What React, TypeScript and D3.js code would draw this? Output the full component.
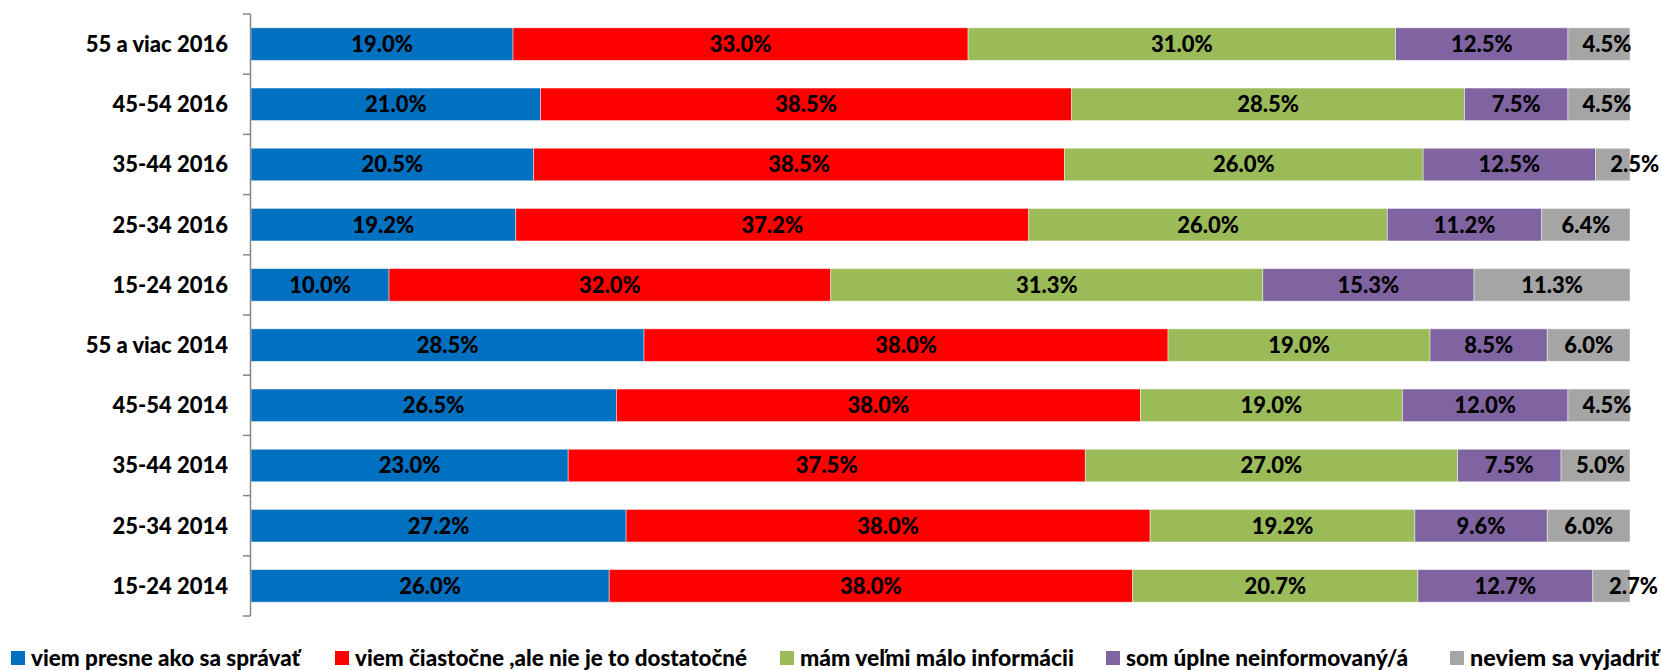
import React, { useEffect } from "react";
import * as d3 from "d3";

const categories = [
  "55 a viac 2016",
  "45-54 2016",
  "35-44 2016",
  "25-34 2016",
  "15-24 2016",
  "55 a viac 2014",
  "45-54 2014",
  "35-44 2014",
  "25-34 2014",
  "15-24 2014",
];

const seriesNames = [
  "viem presne ako sa správať",
  "viem čiastočne ,ale nie je to dostatočné",
  "mám veľmi málo informácii",
  "som úplne neinformovaný/á",
  "neviem sa vyjadriť",
];

const viemPresne = [19.0, 21.0, 20.5, 19.2, 10.0, 28.5, 26.5, 23.0, 27.2, 26.0];
const viemCiastocne = [33.0, 38.5, 38.5, 37.2, 32.0, 38.0, 38.0, 37.5, 38.0, 38.0];
const mamMalo = [31.0, 28.5, 26.0, 26.0, 31.3, 19.0, 19.0, 27.0, 19.2, 20.7];
const somNeinformovany = [12.5, 7.5, 12.5, 11.2, 15.3, 8.5, 12.0, 7.5, 9.6, 12.7];
const neviem = [4.5, 4.5, 2.5, 6.4, 11.3, 6.0, 4.5, 5.0, 6.0, 2.7];

const seriesValues = [viemPresne, viemCiastocne, mamMalo, somNeinformovany, neviem];
const colors = ["#0070C0", "#FF0000", "#9BBB59", "#8064A2", "#A5A5A5"];

// layout: horizontal nudge (px) of the last series' data labels, as placed in the original
const lastLabelNudge = [8, 8, 22, 0, 0, 0, 8, 5, 0, 22];

const W = 1661;
const H = 670;
const FONT = "Lato, 'Open Sans', sans-serif";

export default function App() {
  useEffect(() => {
    document.body.style.margin = "0";
  }, []);

  const plotLeft = 251;
  const plotRight = 1630;
  const plotTop = 14;
  const plotBottom = 616;

  const x = d3.scaleLinear().domain([0, 1]).range([plotLeft, plotRight]);
  const y = d3
    .scaleBand<string>()
    .domain(categories)
    .range([plotTop, plotBottom])
    .paddingInner(0.46)
    .paddingOuter(0.23);

  const rows = categories.map((c, i) => {
    const vals = seriesValues.map((s) => s[i]);
    const total = d3.sum(vals);
    let acc = 0;
    return vals.map((v, k) => {
      const x0 = acc / total;
      acc += v;
      const x1 = acc / total;
      return { cat: c, i, k, v, x0, x1 };
    });
  });

  const step = y.step();
  const tickYs = d3.range(categories.length + 1).map((i) => plotTop + i * step);

  const legendX = [11, 335, 780, 1106, 1450];
  const legendW = [269, 392, 274, 282, 189];

  return (
    <svg width={W} height={H} style={{ display: "block" }} fontFamily={FONT}>
      <rect width={W} height={H} fill="#fff" />
      {rows.map((segs, i) =>
        segs.map((s) => (
          <rect
            key={`${i}-${s.k}`}
            x={x(s.x0)}
            y={y(s.cat)!}
            width={x(s.x1) - x(s.x0)}
            height={y.bandwidth()}
            fill={colors[s.k]}
            stroke="#ffffff"
            strokeOpacity={0.55}
            strokeWidth={0.8}
          />
        ))
      )}
      {rows.map((segs, i) =>
        segs.map((s) => (
          <text
            key={`t-${i}-${s.k}`}
            x={(x(s.x0) + x(s.x1)) / 2 + (s.k === seriesValues.length - 1 ? lastLabelNudge[s.i] : 0)}
            y={y(s.cat)! + y.bandwidth() / 2}
            dy="0.36em"
            textAnchor="middle"
            fontSize={22}
            fontWeight={900}
            fill="#000"
          >
            {s.v.toFixed(1) + "%"}
          </text>
        ))
      )}
      {/* axis */}
      <line x1={250.5} x2={250.5} y1={plotTop} y2={plotBottom} stroke="#868686" strokeWidth={1.5} />
      {tickYs.map((ty, i) => (
        <line key={`tk-${i}`} x1={243} x2={250.5} y1={ty} y2={ty} stroke="#868686" strokeWidth={1.5} />
      ))}
      {categories.map((c) => (
        <text
          key={`c-${c}`}
          x={228}
          y={y(c)! + y.bandwidth() / 2}
          dy="0.36em"
          textAnchor="end"
          fontSize={22}
          fontWeight={900}
          fill="#000"
        >
          {c}
        </text>
      ))}
      {/* legend */}
      {seriesNames.map((n, k) => (
        <g key={`lg-${k}`}>
          <rect x={legendX[k]} y={651} width={14} height={14} fill={colors[k]} />
          <text
            x={legendX[k] + 20}
            y={658}
            dy="0.36em"
            fontSize={23}
            fontWeight={900}
            fill="#000"
            textLength={legendW[k]}
            lengthAdjust="spacingAndGlyphs"
          >
            {n}
          </text>
        </g>
      ))}
    </svg>
  );
}
